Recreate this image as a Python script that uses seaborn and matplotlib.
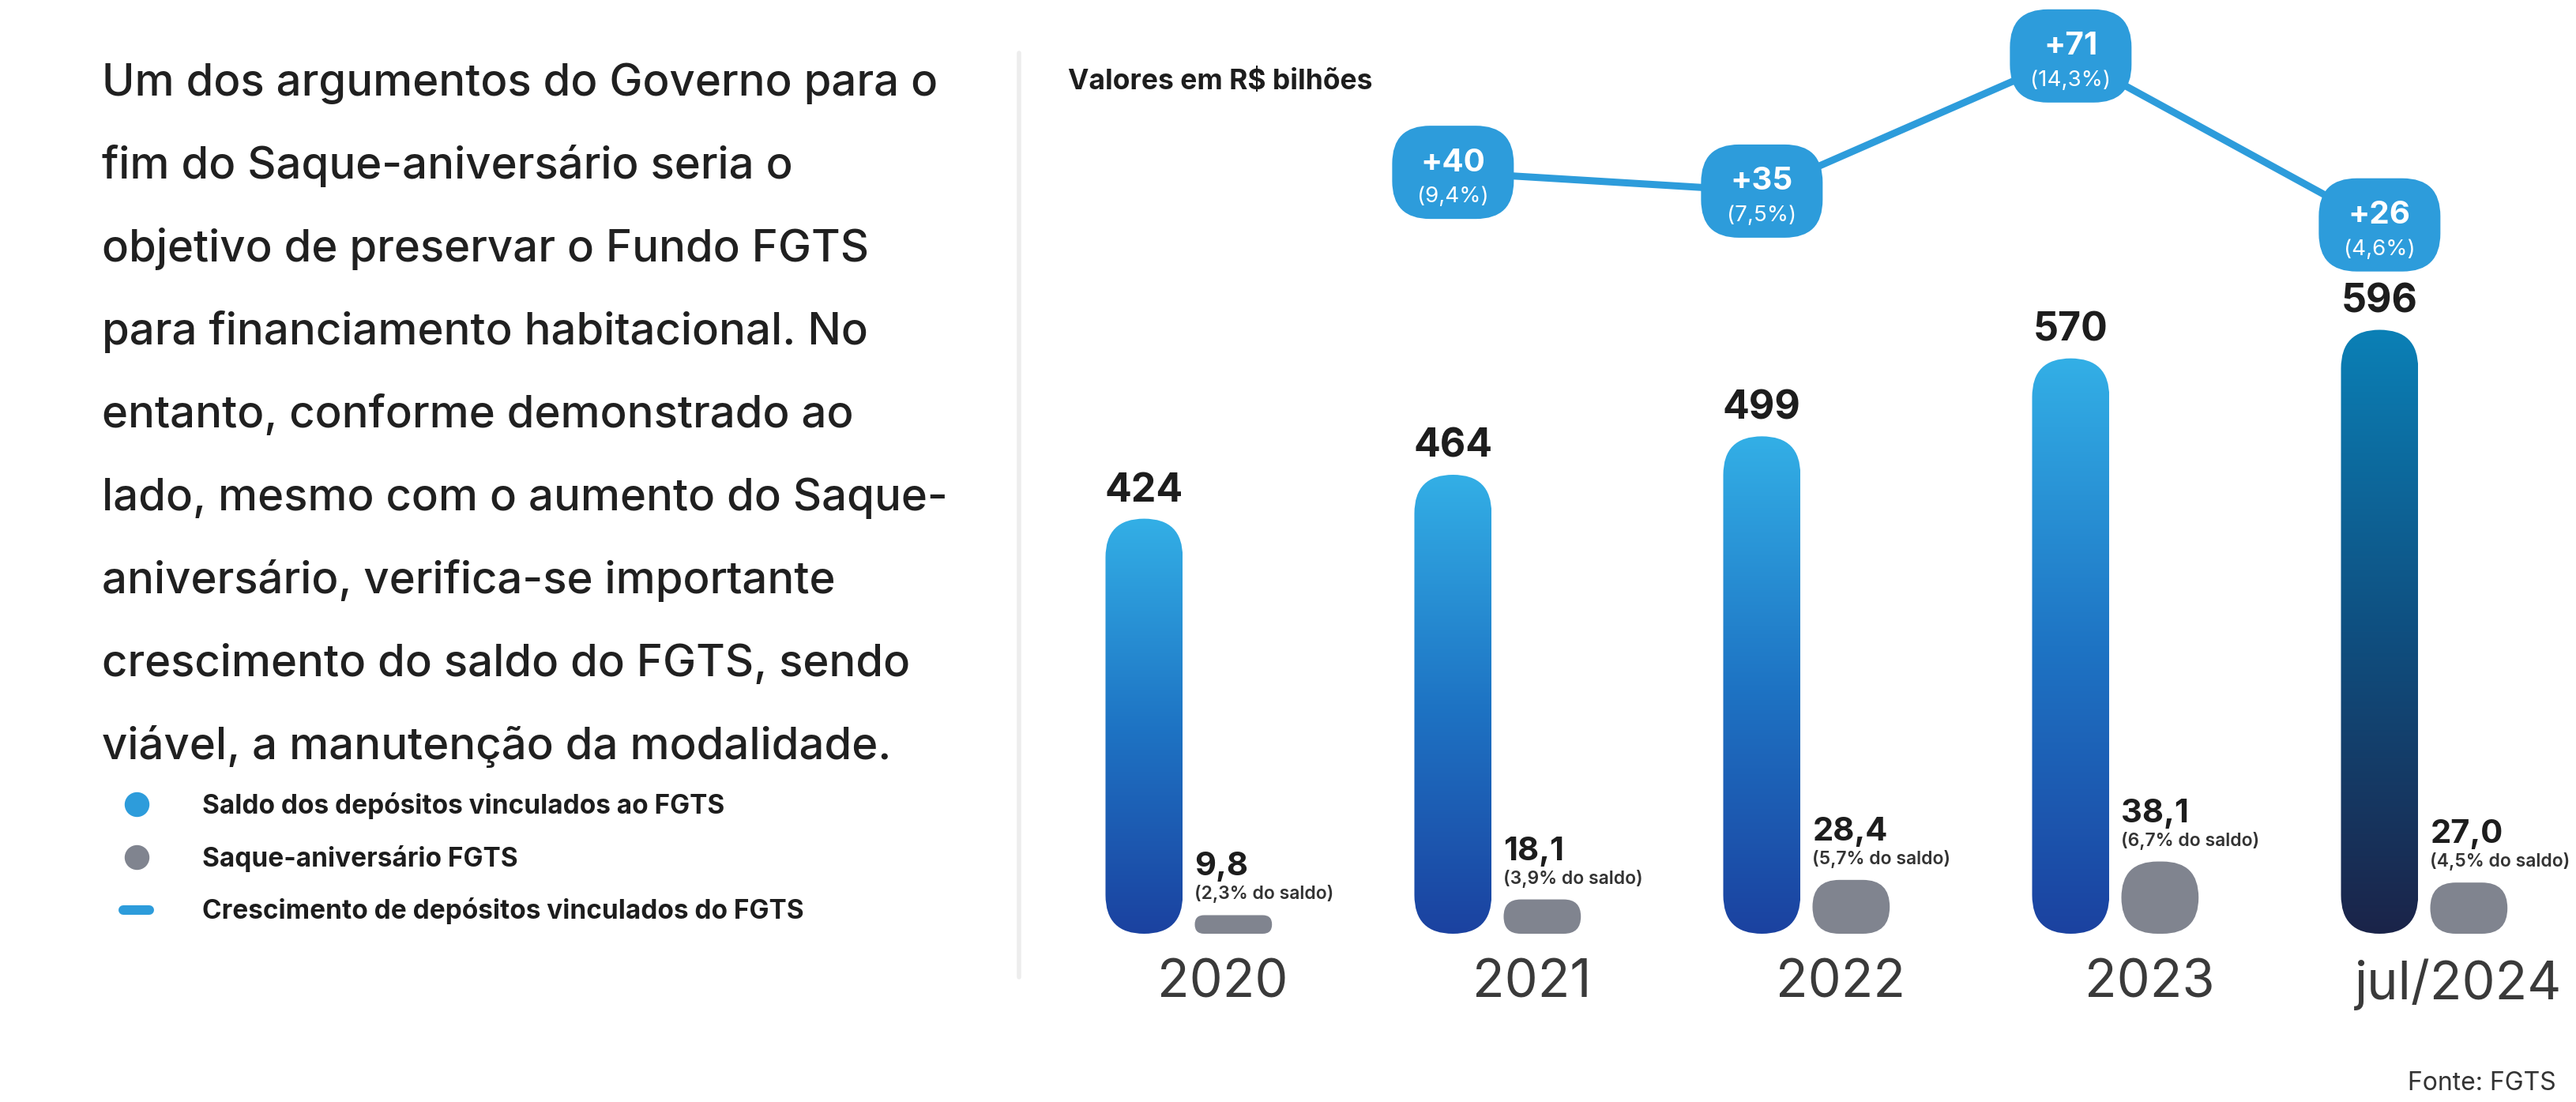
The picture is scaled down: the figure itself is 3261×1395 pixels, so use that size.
import numpy as np
import pandas as pd
import seaborn as sns
import matplotlib.pyplot as plt
from matplotlib.patches import FancyBboxPatch
from matplotlib.lines import Line2D
from matplotlib.colors import LinearSegmentedColormap

# Data ---------------------------------------------------------------
periodos = ["2020", "2021", "2022", "2023", "jul/2024"]
saldo = [424, 464, 499, 570, 596]                 # saldo dos depósitos (R$ bi)
saque = [9.8, 18.1, 28.4, 38.1, 27.0]            # saque-aniversário (R$ bi)
saque_pct = ["2,3%", "3,9%", "5,7%", "6,7%", "4,5%"]
crescimento = [40, 35, 71, 26]                    # 2021 .. jul/2024
crescimento_pct = ["9,4%", "7,5%", "14,3%", "4,6%"]

texto = [
    "Um dos argumentos do Governo para o",
    "fim do Saque-aniversário seria o",
    "objetivo de preservar o Fundo FGTS",
    "para financiamento habitacional. No",
    "entanto, conforme demonstrado ao",
    "lado, mesmo com o aumento do Saque-",
    "aniversário, verifica-se importante",
    "crescimento do saldo do FGTS, sendo",
    "viável, a manutenção da modalidade.",
]
legenda = [
    "Saldo dos depósitos vinculados ao FGTS",
    "Saque-aniversário FGTS",
    "Crescimento de depósitos vinculados do FGTS",
]

# Style --------------------------------------------------------------
W, H, DPI = 3261, 1395, 100
PT = 72 / DPI  # points per pixel

sns.set_theme(style="white")
plt.rcParams["font.family"] = ["Inter", "DejaVu Sans"]

AZUL = "#2D9CDB"
CINZA = "#80848F"
TXT = "#1d1d1d"
grad_azul = LinearSegmentedColormap.from_list("g1", ["#1B42A0", "#1E74C4", "#33AFE6"])
grad_escuro = LinearSegmentedColormap.from_list("g2", ["#1B2449", "#0F4F80", "#0B80B6"])
cmaps = [grad_azul] * 4 + [grad_escuro]

fig = plt.figure(figsize=(W / DPI, H / DPI), dpi=DPI)
fig.patch.set_facecolor("white")

ax = fig.add_axes([1290 / W, 213 / H, 1955 / W, 1182 / H])
ax2 = ax.twinx()
ax3 = ax.twinx()

pos = np.arange(len(periodos))
df = pd.DataFrame({"x_saldo": pos - 0.145, "x_saque": pos + 0.144,
                   "saldo": saldo, "saque": saque})

sns.barplot(data=df, x="x_saldo", y="saldo", native_scale=True, width=0.25,
            color=AZUL, ax=ax)
sns.barplot(data=df, x="x_saque", y="saque", native_scale=True, width=0.25,
            color=CINZA, ax=ax2)
sns.lineplot(x=df["x_saldo"][1:], y=crescimento, color=AZUL, lw=9 * PT, ax=ax3)

ax.set_xlim(-0.55, 4.45)
ax.set_ylim(46, 46 + 1182 / 1.39)
ax2.set_ylim(0, 1182 / 2.4)
ax3.set_ylim(-162.8, 85.9)

for a in (ax, ax2, ax3):
    a.set_facecolor("none")
    a.grid(False)
    for s in a.spines.values():
        s.set_visible(False)
    a.set_ylabel("")
    a.set_xlabel("")
    a.set_yticks([])


def units(a):
    # data units per pixel on x and y
    bb = a.get_window_extent()
    x0, x1 = a.get_xlim()
    y0, y1 = a.get_ylim()
    return (x1 - x0) / bb.width, (y1 - y0) / bb.height


# rounded gradient bars (saldo)
xpp, ypp = units(ax)
base = ax.get_ylim()[0]
for bar in list(ax.patches):
    x0, w, top = bar.get_x(), bar.get_width(), bar.get_height()
    i = int(round(x0 + w / 2 + 0.145))
    bar.remove()
    shape = FancyBboxPatch((x0, base), w, top - base,
                           boxstyle=f"round,pad=0,rounding_size={w / 2}",
                           mutation_aspect=ypp / xpp, fc="none", ec="none")
    ax.add_patch(shape)
    img = ax.imshow(np.linspace(0, 1, 256).reshape(-1, 1), extent=[x0, x0 + w, base, top],
                    origin="lower", aspect="auto", cmap=cmaps[i], zorder=2)
    img.set_clip_path(shape)
    ax.annotate(f"{saldo[i]}", (x0 + w / 2, top), xytext=(0, 22 * PT),
                textcoords="offset points", ha="center", va="baseline",
                fontsize=36, fontweight="bold", color=TXT)

# pill bars (saque)
xpp2, ypp2 = units(ax2)
for bar in list(ax2.patches):
    x0, w, h = bar.get_x(), bar.get_width(), bar.get_height()
    i = int(round(x0 + w / 2 - 0.144))
    bar.remove()
    asp = ypp2 / xpp2
    r = min(w, h / asp) / 2
    ax2.add_patch(FancyBboxPatch((x0, 0), w, h, boxstyle=f"round,pad=0,rounding_size={r}",
                                 mutation_aspect=asp, fc=CINZA, ec="none"))
    lbl = f"{saque[i]:.1f}".replace(".", ",")
    ax2.annotate(lbl, (x0, h), xytext=(0, 50 * PT), textcoords="offset points",
                 ha="left", va="baseline", fontsize=30, fontweight="bold", color=TXT)
    ax2.annotate(f"({saque_pct[i]} do saldo)", (x0, h), xytext=(0, 20 * PT),
                 textcoords="offset points", ha="left", va="baseline",
                 fontsize=16.5, fontweight="semibold", color="#333333")

# badges on the growth line
xpp3, ypp3 = units(ax3)
bw, bh = 154 * xpp3, 118 * ypp3
for xc, v, p in zip(df["x_saldo"][1:], crescimento, crescimento_pct):
    ax3.add_patch(FancyBboxPatch((xc - bw / 2, v - bh / 2), bw, bh,
                                 boxstyle=f"round,pad=0,rounding_size={48 * xpp3}",
                                 mutation_aspect=ypp3 / xpp3, fc=AZUL, ec="none", zorder=3))
    ax3.annotate(f"+{v}", (xc, v), xytext=(0, 12 * PT), textcoords="offset points",
                 ha="center", va="center", fontsize=29, fontweight="bold", color="white", zorder=4)
    ax3.annotate(f"({p})", (xc, v), xytext=(0, -31 * PT), textcoords="offset points",
                 ha="center", va="center", fontsize=20, color="white", zorder=4)

ax.set_xticks(pos + 0.11, periodos)
ax.tick_params(axis="x", length=0, pad=23, labelsize=48, labelcolor="#3a3a3a")
for a in (ax2, ax3):
    a.tick_params(axis="x", length=0)

# Texts --------------------------------------------------------------
for k, linha in enumerate(texto):
    fig.text(129 / W, 1 - (121 + 105 * k) / H, linha, fontsize=40.5, color="#202020",
             fontweight="medium", ha="left", va="baseline")

fig.text(1352 / W, 1 - 104 / H, "Valores em R$ bilhões", fontsize=25.5,
         fontweight="bold", color=TXT, ha="left", va="center")
fig.text(3236 / W, 1 - 1380 / H, "Fonte: FGTS", fontsize=23, color="#333333",
         ha="right", va="baseline")

fig.add_artist(Line2D([1290 / W] * 2, [1 - 67 / H, 1 - 1237 / H], color="#ededed", lw=4))

handles = [
    Line2D([], [], marker="o", ls="none", color=AZUL, markersize=30 * PT),
    Line2D([], [], marker="o", ls="none", color=CINZA, markersize=30 * PT),
    Line2D([], [], color=AZUL, lw=12 * PT),
]
fig.legend(handles, legenda, loc="upper left", bbox_to_anchor=(156 / W, 1 - 1003 / H),
           frameon=False, borderpad=0, borderaxespad=0, handlelength=1.0,
           handletextpad=2.0, labelspacing=0.98,
           prop={"size": 24, "weight": "bold"}, labelcolor=TXT)

fig.savefig("out.png", dpi=DPI)
